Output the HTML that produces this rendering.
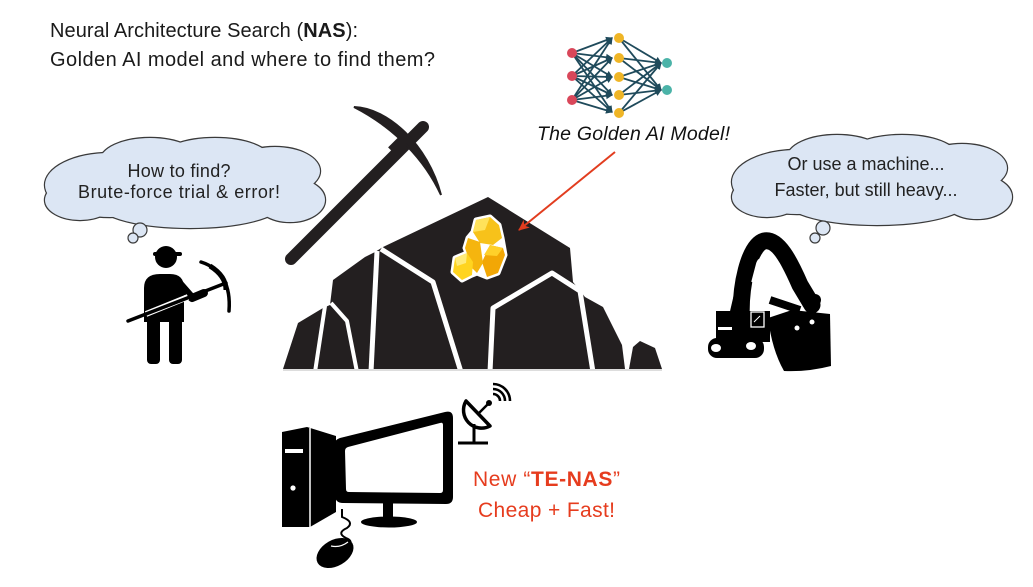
<!DOCTYPE html>
<html><head><meta charset="utf-8"><style>
html,body{margin:0;padding:0;background:#fff;}
svg{display:block;}
</style></head><body>
<svg width="1033" height="587" viewBox="0 0 1033 587" xmlns="http://www.w3.org/2000/svg">
<defs>
<marker id="ah" markerWidth="8" markerHeight="8" refX="6" refY="4" orient="auto" markerUnits="userSpaceOnUse">
<path d="M0,0.5 L7,4 L0,7.5 Z" fill="#1f4a5b"/>
</marker>
<marker id="ra" markerWidth="12" markerHeight="10" refX="10" refY="5" orient="auto" markerUnits="userSpaceOnUse">
<path d="M0,0 L11,5 L0,10 L3,5 Z" fill="#e23d1f"/>
</marker>
<g id="cloud">
<ellipse cx="110" cy="185" rx="65" ry="32"/>
<ellipse cx="150" cy="161" rx="50" ry="23"/>
<ellipse cx="215" cy="159" rx="55" ry="21"/>
<ellipse cx="275" cy="171" rx="45" ry="24"/>
<ellipse cx="290" cy="200" rx="35" ry="22"/>
<ellipse cx="190" cy="205" rx="90" ry="23"/>
<ellipse cx="80" cy="200" rx="35" ry="20"/>
</g>
</defs>
<rect width="1033" height="587" fill="#fff"/>

<!-- Title -->
<text x="50" y="37" font-family="Liberation Sans, sans-serif" font-size="20" fill="#1a1a1a" textLength="308" lengthAdjust="spacing">Neural Architecture Search (<tspan font-weight="bold">NAS</tspan>):</text>
<text x="50" y="66" font-family="Liberation Sans, sans-serif" font-size="20" fill="#1a1a1a" textLength="385" lengthAdjust="spacing">Golden AI model and where to find them?</text>

<!-- Left cloud -->
<g stroke="#3a3a3a" stroke-width="2.4" fill="#dce6f4"><use href="#cloud"/></g>
<g fill="#dce6f4" stroke="none"><use href="#cloud"/><ellipse cx="188" cy="185" rx="115" ry="30"/></g>
<circle cx="140" cy="230" r="7" fill="#dce6f4" stroke="#3a3a3a" stroke-width="1.2"/>
<circle cx="133" cy="238" r="5" fill="#dce6f4" stroke="#3a3a3a" stroke-width="1.2"/>
<text x="179" y="177" text-anchor="middle" font-family="Liberation Sans, sans-serif" font-size="18" fill="#222" textLength="103" lengthAdjust="spacing">How to find?</text>
<text x="179" y="198" text-anchor="middle" font-family="Liberation Sans, sans-serif" font-size="18" fill="#222" textLength="202" lengthAdjust="spacing">Brute-force trial &amp; error!</text>

<!-- Right cloud -->
<g transform="translate(687,-3)">
<g stroke="#3a3a3a" stroke-width="2.4" fill="#dce6f4"><use href="#cloud"/></g>
<g fill="#dce6f4" stroke="none"><use href="#cloud"/><ellipse cx="188" cy="185" rx="115" ry="30"/></g>
</g>
<circle cx="823" cy="228" r="7" fill="#dce6f4" stroke="#3a3a3a" stroke-width="1.2"/>
<circle cx="815" cy="238" r="5" fill="#dce6f4" stroke="#3a3a3a" stroke-width="1.2"/>
<text x="866" y="170" text-anchor="middle" font-family="Liberation Sans, sans-serif" font-size="18" fill="#222" textLength="157" lengthAdjust="spacing">Or use a machine...</text>
<text x="866" y="196" text-anchor="middle" font-family="Liberation Sans, sans-serif" font-size="18" fill="#222" textLength="183" lengthAdjust="spacing">Faster, but still heavy...</text>

<!-- Neural net icon -->
<g stroke="#1f4a5b" stroke-width="1.8" fill="none">
<g marker-end="url(#ah)">
<line x1="572" y1="53" x2="612" y2="38"/><line x1="572" y1="53" x2="612" y2="58"/><line x1="572" y1="53" x2="612" y2="77"/><line x1="572" y1="53" x2="612" y2="95"/><line x1="572" y1="53" x2="612" y2="112"/>
<line x1="572" y1="76" x2="612" y2="38"/><line x1="572" y1="76" x2="612" y2="58"/><line x1="572" y1="76" x2="612" y2="77"/><line x1="572" y1="76" x2="612" y2="95"/><line x1="572" y1="76" x2="612" y2="112"/>
<line x1="572" y1="100" x2="612" y2="38"/><line x1="572" y1="100" x2="612" y2="58"/><line x1="572" y1="100" x2="612" y2="77"/><line x1="572" y1="100" x2="612" y2="95"/><line x1="572" y1="100" x2="612" y2="112"/>
<line x1="619" y1="38" x2="661" y2="63"/><line x1="619" y1="58" x2="661" y2="63"/><line x1="619" y1="77" x2="661" y2="63"/><line x1="619" y1="95" x2="661" y2="63"/><line x1="619" y1="113" x2="661" y2="63"/>
<line x1="619" y1="38" x2="661" y2="90"/><line x1="619" y1="58" x2="661" y2="90"/><line x1="619" y1="77" x2="661" y2="90"/><line x1="619" y1="95" x2="661" y2="90"/><line x1="619" y1="113" x2="661" y2="90"/>
</g>
</g>
<g fill="#d9475a"><circle cx="572" cy="53" r="5"/><circle cx="572" cy="76" r="5"/><circle cx="572" cy="100" r="5"/></g>
<g fill="#efb526"><circle cx="619" cy="38" r="5"/><circle cx="619" cy="58" r="5"/><circle cx="619" cy="77" r="5"/><circle cx="619" cy="95" r="5"/><circle cx="619" cy="113" r="5"/></g>
<g fill="#4bb3a8"><circle cx="667" cy="63" r="5"/><circle cx="667" cy="90" r="5"/></g>

<text x="537" y="140" font-family="Liberation Sans, sans-serif" font-style="italic" font-size="19.5" fill="#111" textLength="193" lengthAdjust="spacing">The Golden AI Model!</text>

<!-- Pickaxe (big) -->
<line x1="291" y1="259" x2="423" y2="127" stroke="#231f20" stroke-width="12" stroke-linecap="round"/>
<path d="M354,107 C388,108 428,145 441,195 C425,160 395,128 354,107 Z" fill="#231f20" stroke="#231f20" stroke-width="2"/>
<rect x="392" y="138" width="12" height="16" fill="#231f20" transform="rotate(45 398 146)"/>

<!-- Mountain -->
<polygon points="283,369 298,323 323,308 330,305 333,280 365,257 375,252 383,247 488,197 570,248 573,282 585,297 603,307 622,345 625,369" fill="#231f20"/>
<polygon points="629,369 633,347 640,341 655,348 662,369" fill="#231f20"/>
<g stroke="#fff" fill="none" stroke-linejoin="round">
<path d="M377,251 L371,372" stroke-width="5"/>
<path d="M381,249 L433,282 L461,372" stroke-width="5"/>
<path d="M325,306 L315,372" stroke-width="4"/>
<path d="M331,303 L347,321 L357,372" stroke-width="4"/>
<path d="M490,372 L493,308 L552,273 L580,291 L593,372" stroke-width="5"/>
</g>
<line x1="283" y1="370" x2="662" y2="370" stroke="#bbb" stroke-width="1"/>

<!-- Gold -->
<g stroke="#fff" stroke-width="5" stroke-linejoin="round" fill="#fff">
<polygon points="476,220 490,217 499,225 502,238 505,255 498,273 487,277 477,273 472,275 462,280 453,272 455,258 467,253 465,248 468,238 473,232"/>
</g>
<polygon points="476,220 490,217 499,225 502,238 493,245 480,243 473,232" fill="#f7c21a"/>
<polygon points="476,220 490,217 485,230 473,232" fill="#ffe25a"/>
<polygon points="490,245 503,248 505,255 498,273 487,277 482,262" fill="#f2a705"/>
<polygon points="490,245 503,248 497,256 484,255" fill="#ffd02a"/>
<polygon points="468,238 480,242 483,263 477,273 472,268 465,248" fill="#f5b50e"/>
<polygon points="455,258 467,253 473,262 472,275 462,280 453,272" fill="#ffd41f"/>
<polygon points="455,258 467,253 466,263 457,266" fill="#ffeb7a"/>

<!-- Red arrow -->
<line x1="615" y1="152" x2="519" y2="230" stroke="#e23d1f" stroke-width="2" marker-end="url(#ra)"/>

<!-- Miner -->
<g fill="#000">
<circle cx="166" cy="257" r="11"/>
<rect x="153" y="252" width="29" height="4" rx="2"/>
<path d="M144,288 Q144,274 160,274 L170,274 Q184,274 184,288 L184,322 L144,322 Z"/>
<rect x="147" y="316" width="13" height="48" rx="4"/>
<rect x="169" y="316" width="13" height="48" rx="4"/>
</g>
<path d="M178,282 L192,298 L204,293" stroke="#000" stroke-width="8" fill="none" stroke-linecap="round" stroke-linejoin="round"/>
<line x1="146" y1="314" x2="188" y2="297" stroke="#fff" stroke-width="6"/>
<line x1="128" y1="321" x2="226" y2="283" stroke="#000" stroke-width="3.5" stroke-linecap="round"/>
<path d="M201,262 Q232,272 229,311" stroke="#000" stroke-width="3.5" fill="none" stroke-linecap="round"/>
<path d="M210,266 Q226,276 226,290" stroke="#000" stroke-width="5" fill="none"/>

<!-- Excavator -->
<g fill="#000">
<rect x="708" y="338" width="56" height="20" rx="9"/>
<rect x="716" y="311" width="54" height="31"/>
<path d="M768,318 L792,310 L830,314 L831,366 Q808,372 784,371 Q772,350 768,318 Z"/>
</g>
<path d="M742,330 C738,285 750,245 764,241 C778,238 790,262 800,285 L812,305" stroke="#000" stroke-width="17" fill="none" stroke-linecap="round"/>
<path d="M732,318 L746,258" stroke="#000" stroke-width="7"/>
<path d="M770,300 L800,310" stroke="#000" stroke-width="8"/>
<circle cx="815" cy="300" r="6" fill="#000"/>
<path d="M752,282 L757,263 Q760,255 763,265 L766,275 Q769,262 774,258 Q780,262 784,275" stroke="#fff" stroke-width="1.5" fill="none"/>
<ellipse cx="716" cy="348" rx="5" ry="4" fill="#fff"/>
<ellipse cx="751" cy="346" rx="5" ry="4" fill="#fff"/>
<rect x="718" y="327" width="14" height="3" fill="#fff"/>
<rect x="751" y="312" width="13" height="15" fill="none" stroke="#fff" stroke-width="1.3"/>
<line x1="754" y1="322" x2="760" y2="316" stroke="#fff" stroke-width="1"/>
<circle cx="797" cy="328" r="2.5" fill="#fff"/>
<circle cx="812" cy="322" r="2.5" fill="#fff"/>

<!-- Computer: tower -->
<polygon points="282,432 307,427 336,436 336,512 310,527 282,527" fill="#000"/>
<line x1="310" y1="428" x2="310" y2="527" stroke="#fff" stroke-width="1.5"/>
<rect x="285" y="449" width="18" height="4" fill="#fff"/>
<circle cx="293" cy="488" r="2.6" fill="#fff"/>
<!-- monitor -->
<path d="M340,438 L445,412 Q453,410 453,418 L453,497 Q453,504 446,504 L343,503 Q335,503 335,495 L334,446 Q334,440 340,438 Z" fill="#000"/>
<path d="M348,447 L440,423 Q443,422 443,425 L443,490 Q443,493 440,493 L349,492 Q346,492 346,489 L345,451 Q345,448 348,447 Z" fill="#fff"/>
<rect x="383" y="503" width="10" height="15" fill="#000"/>
<ellipse cx="389" cy="522" rx="28" ry="5.5" fill="#000"/>
<path d="M342,509 L342,517 Q355,522 347,528 Q336,533 346,538 Q354,541 348,546" stroke="#000" stroke-width="2" fill="none"/>
<path d="M343,510 L346,510" stroke="#fff" stroke-width="1"/>
<ellipse cx="335" cy="553" rx="20" ry="13" fill="#000" transform="rotate(-30 335 553)"/>
<path d="M331,546 Q340,548 348,542" stroke="#fff" stroke-width="1.2" fill="none"/>

<!-- Satellite dish -->
<path d="M466,401 A18,18 0 0 0 490,426 Z" fill="#fff" stroke="#000" stroke-width="3.5" stroke-linejoin="round"/>
<line x1="478" y1="414" x2="488" y2="404" stroke="#000" stroke-width="2.5"/>
<circle cx="489" cy="403" r="3" fill="#000"/>
<line x1="474" y1="424" x2="474" y2="443" stroke="#000" stroke-width="3"/>
<line x1="458" y1="443" x2="488" y2="443" stroke="#000" stroke-width="3"/>
<g stroke="#000" stroke-width="2.6" fill="none">
<path d="M493,394 A7,7 0 0 1 500,401"/>
<path d="M493,389 A12,12 0 0 1 505,401"/>
<path d="M493,384 A17,17 0 0 1 510,401"/>
</g>

<!-- Red text -->
<text x="473" y="486" font-family="Liberation Sans, sans-serif" font-size="21" fill="#e63c1e" textLength="147" lengthAdjust="spacing">New “<tspan font-weight="bold">TE-NAS</tspan>”</text>
<text x="478" y="517" font-family="Liberation Sans, sans-serif" font-size="21" fill="#e63c1e" textLength="137" lengthAdjust="spacing">Cheap + Fast!</text>
</svg>
</body></html>
